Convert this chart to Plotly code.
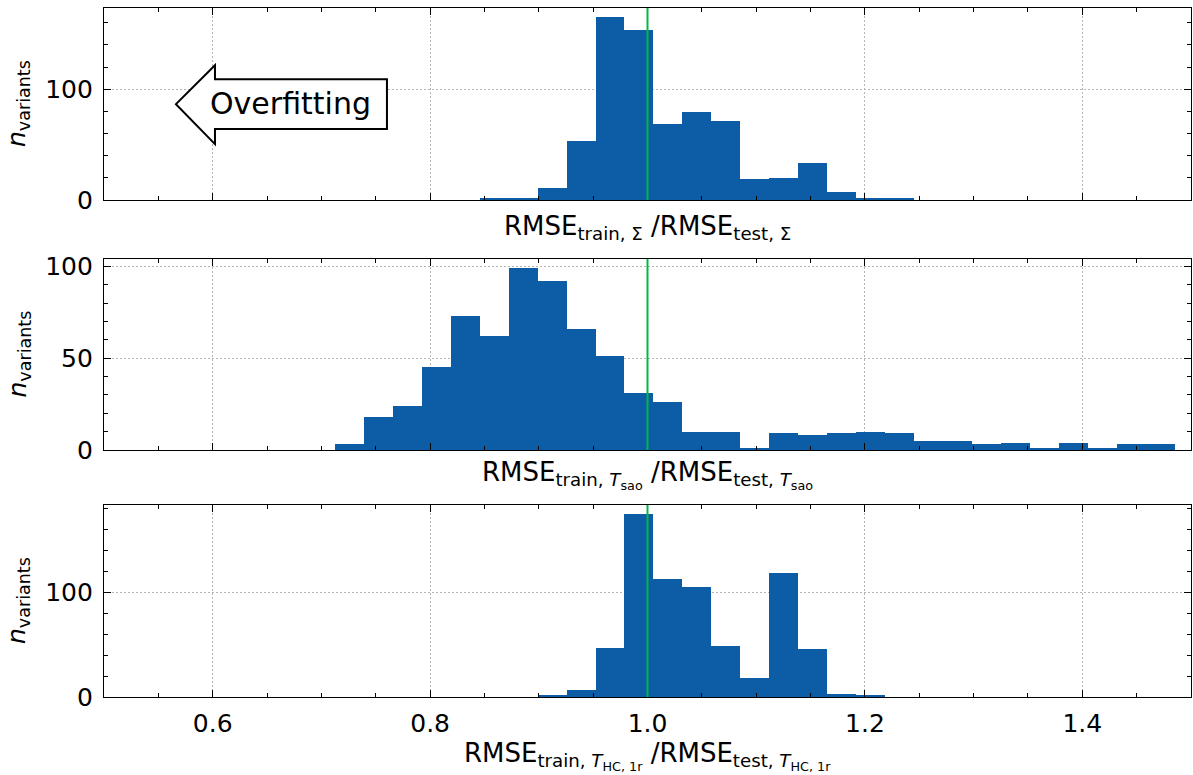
import plotly.graph_objects as go

# ---- data: common histogram bin grid ----
BIN_START = 0.7124
BIN_WIDTH = 0.02664
N_BINS = 29

# counts per bin (n_variants) for each panel
counts_sigma = [0, 0, 0, 0, 0, 1, 1, 11, 53, 165, 153, 69, 79, 71, 19,
                20, 33, 7, 1, 2, 0, 0, 0, 0, 0, 0, 0, 0, 0]
counts_tsao = [3, 18, 24, 45, 73, 62, 99, 92, 66, 51, 31, 26, 10, 10, 1,
               9, 8, 9, 10, 9, 5, 5, 3, 4, 1, 4, 1, 3, 3]
counts_thc = [0, 0, 0, 0, 0, 0, 0, 1, 7, 47, 175, 113, 105, 49, 18,
              119, 46, 3, 2, 0, 0, 0, 0, 0, 0, 0, 0, 0, 0]

x_labels = [
    "RMSE<sub>train, Σ</sub> /RMSE<sub>test, Σ</sub>",
    "RMSE<sub>train, <i>T</i><sub>sao</sub></sub> /RMSE<sub>test, <i>T</i><sub>sao</sub></sub>",
    "RMSE<sub>train, <i>T</i><sub>HC, 1r</sub></sub> /RMSE<sub>test, <i>T</i><sub>HC, 1r</sub></sub>",
]
y_label = "<i>n</i><sub>variants</sub>"
y_dticks = [100, 50, 100]
y_minor = [20, 10, 20]
reference_ratio = 1.0
x_range = [0.5, 1.5]

BLUE = "#0C5DA5"
GREEN = "#00B945"
FONT = "DejaVu Sans"
FS = 25
GRID = dict(showgrid=True, gridcolor="#b5b5b5", griddash="1.5px,2.5px", gridwidth=1)

centers = [BIN_START + (k + 0.5) * BIN_WIDTH for k in range(N_BINS)]
all_counts = [counts_sigma, counts_tsao, counts_thc]

# layout geometry (pixels)
W, H = 1193, 775
ML, MR, MT, MB = 104, 2, 8, 78
PH = H - MT - MB
panels_px = [(8, 200), (259, 450), (505, 697)]  # top, bottom of each axes


def dom(top, bot):
    return [(H - MB - bot) / PH, (H - MB - top) / PH]


fig = go.Figure()
layout = dict(
    width=W, height=H,
    margin=dict(l=ML, r=MR, t=MT, b=MB),
    paper_bgcolor="white", plot_bgcolor="white",
    showlegend=False,
    font=dict(family=FONT, size=FS, color="black"),
    bargap=0,
)

annotations = []
shapes = []
for i, counts in enumerate(all_counts):
    sfx = "" if i == 0 else str(i + 1)
    fig.add_trace(go.Bar(
        x=centers, y=counts, width=BIN_WIDTH,
        marker=dict(color=BLUE, line=dict(width=0)),
        xaxis="x" + sfx, yaxis="y" + sfx,
    ))
    top, bot = panels_px[i]
    ymax = max(counts) * 1.05
    layout["xaxis" + sfx] = dict(
        domain=[0, 1], anchor="y" + sfx, range=x_range,
        showline=True, linecolor="black", linewidth=1.2, mirror="ticks",
        ticks="inside", ticklen=7, tickwidth=1.2, tickcolor="black",
        tick0=0, dtick=0.2, tickformat=".1f",
        showticklabels=(i == 2),
        tickfont=dict(family=FONT, size=FS, color="black"),
        zeroline=False,
        minor=dict(ticks="inside", ticklen=4, tickwidth=1, tickcolor="black",
                   dtick=0.05, tick0=0, showgrid=False),
        ticklabelstandoff=4,
        **GRID,
    )
    layout["yaxis" + sfx] = dict(
        domain=dom(top, bot), anchor="x" + sfx, range=[0, ymax],
        showline=True, linecolor="black", linewidth=1.2, mirror="ticks",
        ticks="inside", ticklen=7, tickwidth=1.2, tickcolor="black",
        tick0=0, dtick=y_dticks[i],
        tickfont=dict(family=FONT, size=FS, color="black"),
        zeroline=False,
        minor=dict(ticks="inside", ticklen=4, tickwidth=1, tickcolor="black",
                   dtick=y_minor[i], tick0=0, showgrid=False),
        ticklabelstandoff=5,
        **GRID,
    )
    # reference line at ratio 1
    shapes.append(dict(type="line", xref="x" + sfx, yref="y" + sfx + " domain",
                       x0=reference_ratio, x1=reference_ratio, y0=0, y1=1,
                       line=dict(color=GREEN, width=2), layer="above"))
    # y-axis title
    annotations.append(dict(
        text=y_label, textangle=-90, xref="paper", yref="paper",
        x=(18 - ML) / (W - ML - MR), y=sum(dom(top, bot)) / 2,
        xanchor="center", yanchor="middle", showarrow=False,
        font=dict(family=FONT, size=FS, color="black"),
    ))

# x-axis titles
xlabel_y_px = [227, 475, 756]
for i, yp in enumerate(xlabel_y_px):
    annotations.append(dict(
        text=x_labels[i], xref="paper", yref="paper",
        x=0.5, y=(H - MB - yp) / PH, xanchor="center", yanchor="middle",
        showarrow=False, font=dict(family=FONT, size=FS + 1, color="black"),
    ))

# "Overfitting" left-arrow box in the top panel
ax_x = lambda p: x_range[0] + (p - ML) / (W - ML - MR) * (x_range[1] - x_range[0])
ax_y = lambda p: (200 - p) / 1.11
pts = [(176, 104), (215, 65), (215, 79), (387, 79), (387, 129), (215, 129), (215, 144)]
path = "M " + " L ".join(f"{ax_x(px):.4f},{ax_y(py):.2f}" for px, py in pts) + " Z"
shapes.append(dict(type="path", xref="x", yref="y", path=path,
                   line=dict(color="black", width=2), fillcolor="white", layer="above"))
annotations.append(dict(
    text="Overfitting", xref="x", yref="y", x=ax_x(290), y=ax_y(103),
    xanchor="center", yanchor="middle", showarrow=False,
    font=dict(family=FONT, size=30, color="black"),
))

layout["annotations"] = annotations
layout["shapes"] = shapes
fig.update_layout(**layout)
fig.write_html(
    "out.html",
    config={"displayModeBar": False},
    post_script="document.body.style.margin='0';document.body.style.overflow='hidden';",
)
